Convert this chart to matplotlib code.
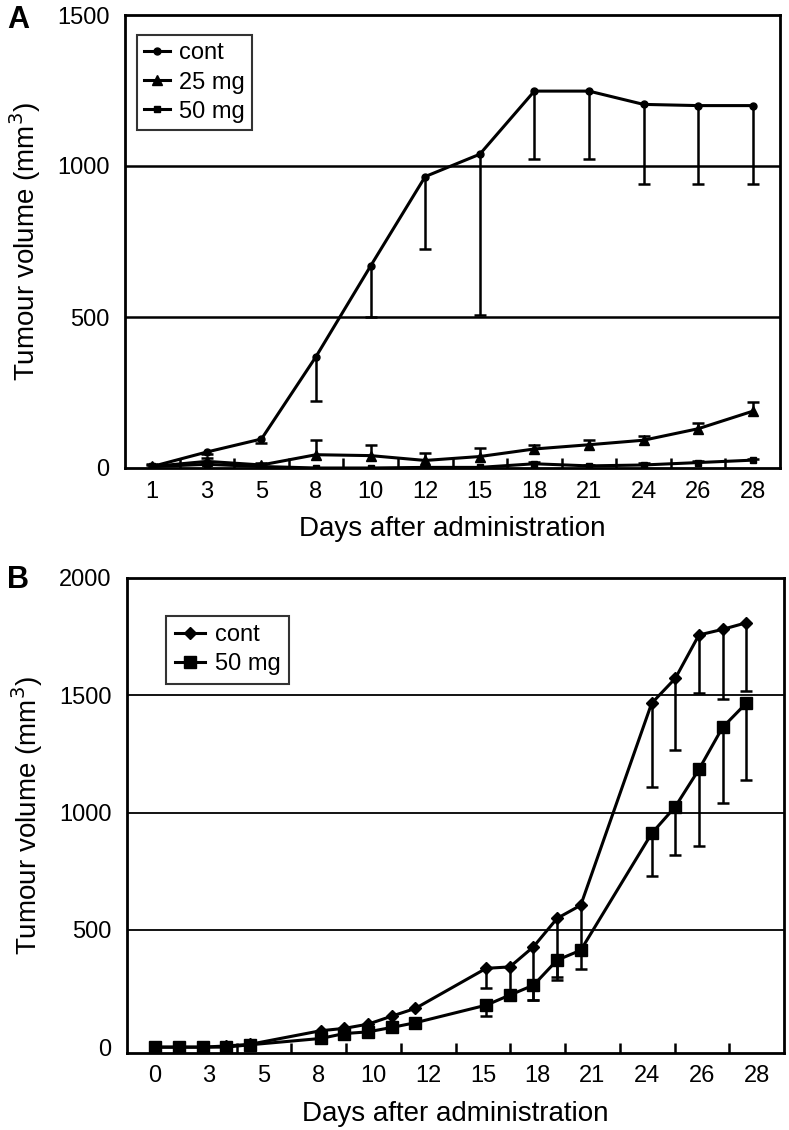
import numpy as np
import matplotlib
matplotlib.use("Agg")
import matplotlib.pyplot as plt

plt.rcParams['font.family'] = ['Liberation Sans', 'DejaVu Sans']

# ---- panel A data (categorical days) ----
days_a = ['1', '3', '5', '8', '10', '12', '15', '18', '21', '24', '26', '28']
cont_a = [5, 53, 96, 369, 669, 965, 1039, 1248, 1248, 1204, 1200, 1200]
cont_a_err = [0, 8, 13, 146, 170, 240, 534, 225, 225, 264, 260, 260]
mg25_a = [5, 22, 10, 44, 41, 25, 38, 63, 77, 92, 130, 188]
mg25_a_err = [5, 10, 5, 49, 36, 25, 29, 14, 17, 13, 20, 31]
mg50_a = [5, 12, 5, 0, 0, 2, 2, 14, 7, 10, 18, 26]
mg50_a_err = [8, 5, 3, 0, 0, 0, 0, 5, 4, 5, 5, 5]

# ---- panel B data (measurement days, labels shown as categories) ----
days_b_labels = ['0', '3', '5', '8', '10', '12', '15', '18', '21', '24', '26', '28']
meas_days_b = [0, 1, 2, 3, 4, 7, 8, 9, 10, 11, 14, 15, 16, 17, 18, 21, 22, 23, 24, 25]
cont_b = [0, 0, 0, 5, 12, 70, 80, 98, 132, 165, 336, 342, 428, 549, 605,
          1466, 1572, 1757, 1781, 1809]
cont_b_err = [0, 0, 0, 0, 0, 0, 0, 0, 0, 0, 86, 120, 228, 249, 190,
              356, 305, 246, 298, 291]
mg50_b = [0, 0, 0, 0, 10, 37, 58, 65, 84, 104, 179, 222, 264, 371, 413,
          911, 1025, 1184, 1363, 1466]
mg50_b_err = [0, 0, 0, 0, 0, 10, 10, 10, 10, 24, 47, 0, 64, 85, 80,
              180, 205, 325, 324, 327]

FS_TICK = 17
FS_LAB = 20
FS_LEG = 17


def lower_bars(ax, x, y, err, lw=1.8):
    x = np.asarray(x, float)
    y = np.asarray(y, float)
    err = np.asarray(err, float)
    m = err > 0
    ax.vlines(x[m], y[m] - err[m], y[m], color='black', lw=lw, zorder=2)
    ax.plot(x[m], y[m] - err[m], '_', color='black', ms=9, mew=lw, zorder=2)


def upper_bars(ax, x, y, err, lw=1.8):
    x = np.asarray(x, float)
    y = np.asarray(y, float)
    err = np.asarray(err, float)
    m = err > 0
    ax.vlines(x[m], y[m], y[m] + err[m], color='black', lw=lw, zorder=2)
    ax.plot(x[m], y[m] + err[m], '_', color='black', ms=8, mew=lw, zorder=2)


def style_axes(ax, ymax, ystep, labels, grid_lw):
    n = len(labels)
    ax.set_xlim(-0.5, n - 0.5)
    ax.set_xticks(np.arange(n))
    ax.set_xticklabels(labels, fontsize=FS_TICK)
    ax.set_xticks(np.arange(n - 1) + 0.5, minor=True)
    ax.tick_params(axis='x', which='major', length=0, pad=9)
    ax.tick_params(axis='x', which='minor', direction='in', length=7, width=1.8)
    ax.set_yticks(np.arange(0, ymax + 1, ystep))
    ax.tick_params(axis='y', length=0, pad=11, labelsize=FS_TICK)
    for s in ax.spines.values():
        s.set_linewidth(2)
    for v in np.arange(ystep, ymax, ystep):
        ax.axhline(v, color='black', lw=grid_lw, zorder=0)
    ax.set_xlabel('Days after administration', fontsize=FS_LAB, labelpad=10)
    ax.set_ylabel('Tumour volume (mm$^3$)', fontsize=FS_LAB, labelpad=10)


fig = plt.figure(figsize=(7.89, 11.3), dpi=100)

# ---------------- panel A ----------------
axA = fig.add_axes([125 / 789, 1 - 468 / 1130, 655 / 789, 453 / 1130])
xa = np.arange(len(days_a))
lower_bars(axA, xa, cont_a, cont_a_err)
upper_bars(axA, xa, mg25_a, mg25_a_err)
upper_bars(axA, xa, mg50_a, mg50_a_err)
axA.plot(xa, cont_a, '-o', color='black', lw=2.2, ms=5, label='cont', zorder=3)
axA.plot(xa, mg25_a, '-^', color='black', lw=2.2, ms=7, label='25 mg', zorder=3)
axA.plot(xa, mg50_a, '-s', color='black', lw=2.2, ms=5, label='50 mg', zorder=3)
axA.set_ylim(0, 1500)
style_axes(axA, 1500, 500, days_a, 1.8)
legA = axA.legend(loc='upper left', bbox_to_anchor=(0.018, 0.955), fontsize=FS_LEG,
                  frameon=True, fancybox=False, edgecolor='black',
                  handlelength=1.1, handletextpad=0.4, borderpad=0.3,
                  labelspacing=0.3, borderaxespad=0)
legA.get_frame().set_linewidth(1.5)
fig.text(18 / 789, 1 - 20 / 1130, 'A', fontsize=22, fontweight='bold',
         ha='center', va='center')

# ---------------- panel B ----------------
axB = fig.add_axes([127 / 789, 1 - 1053 / 1130, 657 / 789, 475 / 1130])
axB.set_ylim(-25, 2000)
style_axes(axB, 2000, 500, days_b_labels, 1.3)

# data on a linear day scale overlaid on the category axis
axD = axB.twiny()
axD.set_xlim(-1.2, 26.6)
axD.set_xticks([])
for s in axD.spines.values():
    s.set_visible(False)
lower_bars(axD, meas_days_b, cont_b, cont_b_err)
lower_bars(axD, meas_days_b, mg50_b, mg50_b_err)
axD.plot(meas_days_b, cont_b, '-D', color='black', lw=2.2, ms=6, label='cont', zorder=3)
axD.plot(meas_days_b, mg50_b, '-s', color='black', lw=2.2, ms=8, label='50 mg', zorder=3)
legB = axD.legend(loc='upper left', bbox_to_anchor=(0.06, 0.92), fontsize=FS_LEG,
                  frameon=True, fancybox=False, edgecolor='black',
                  handlelength=1.3, handletextpad=0.4, borderpad=0.35,
                  labelspacing=0.3, borderaxespad=0)
legB.get_frame().set_linewidth(1.5)
fig.text(18 / 789, 1 - 580 / 1130, 'B', fontsize=22, fontweight='bold',
         ha='center', va='center')

fig.savefig('out.png', dpi=100)
